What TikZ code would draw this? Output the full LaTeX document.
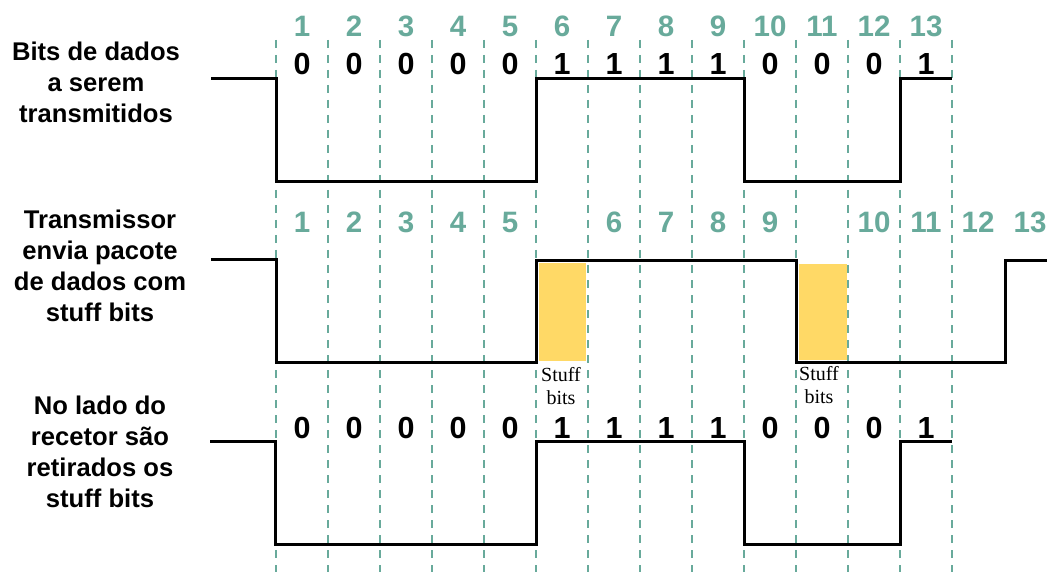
\documentclass[tikz,border=0pt]{standalone}
\usepackage{fontspec}
\setmainfont{Liberation Sans}
\newfontfamily\stufffont{Liberation Serif}
\usetikzlibrary{
    positioning,      % posicionamento relativo
    arrows.meta       % pontas de seta
}
\definecolor{bitgreen}{RGB}{104,170,155}
\definecolor{stuffyellow}{RGB}{255,217,102}

\begin{document}
\begin{tikzpicture}[
        x=1pt, y=-1pt,
        rowlabel/.style={
            align=center,
            inner sep=0pt,
            font=\fontsize{25.6}{31}\selectfont\bfseries
        },
        bitnum/.style={
            inner sep=0pt,
            text=bitgreen,
            font=\fontsize{29.5}{29.5}\selectfont\bfseries
        },
        bitval/.style={
            inner sep=0pt,
            font=\fontsize{30.5}{30.5}\selectfont\bfseries
        },
        gridline/.style={
            draw=bitgreen,
            line width=2.6pt,
            dash pattern=on 8pt off 7pt
        },
        signal/.style={
            draw=black,
            line width=3pt,
            line join=miter
        },
        stuffbox/.style={
            fill=stuffyellow
        },
        stufflabel/.style={
            align=center,
            inner sep=0pt,
            font=\stufffont\fontsize{20}{23}\selectfont
        }
    ]
    \useasboundingbox[fill=white] (0,0) rectangle (1047,572);

    % blocos amarelos dos stuff bits
    \fill[stuffyellow] (539,263) rectangle (586,361);
    \fill[stuffyellow] (799,264) rectangle (847,360);

    % linhas verticais tracejadas
    \foreach \i in {0,...,13}
        \draw[gridline] ({276+52*\i},40) -- ({276+52*\i},572);

    % primeira linha: bits de dados
    \node[rowlabel] (label1) at (96,82) {Bits de dados\\a serem\\transmitidos};
    \foreach \n in {1,...,13}
        \node[bitnum] (num\n) at ({302+52*(\n-1)},26.5) {\n};
    \foreach \b [count=\i] in {0,0,0,0,0,1,1,1,1,0,0,0,1} {
        \node[bitval] (tx\i) at ({302+52*(\i-1)},64) {\b};
        \node[bitval] (rx\i) at ({302+52*(\i-1)},428) {\b};
    }
    \draw[signal] (211,79) -- (276,79) -- (276,182) -- (536,182) -- (536,79)
        -- (744,79) -- (744,182) -- (900,182) -- (900,79) -- (952,79);

    % segunda linha: pacote com stuff bits
    \node[rowlabel] (label2) at (100,266) {Transmissor\\envia pacote\\de dados com\\stuff bits};
    \foreach \n/\c in {1/1,2/2,3/3,4/4,5/5,6/7,7/8,8/9,9/10,10/12,11/13,12/14,13/15}
        \node[bitnum] (pkt\n) at ({302+52*(\c-1)},222.5) {\n};
    \draw[signal] (211,260) -- (276,260) -- (276,362) -- (536,362) -- (536,261)
        -- (796,261) -- (796,362) -- (1005,362) -- (1005,261) -- (1047,261);
    \node[stufflabel] (stuff1) at (561,386.5) {Stuff\\bits};
    \node[stufflabel] (stuff2) at (819,385) {Stuff\\bits};

    % terceira linha: recetor
    \node[rowlabel] (label3) at (100,452) {No lado do\\recetor são\\retirados os\\stuff bits};
    \draw[signal] (210,441) -- (275,441) -- (275,544) -- (536,544) -- (536,441)
        -- (744,441) -- (744,544) -- (900,544) -- (900,441) -- (952,441);
\end{tikzpicture}
\end{document}
